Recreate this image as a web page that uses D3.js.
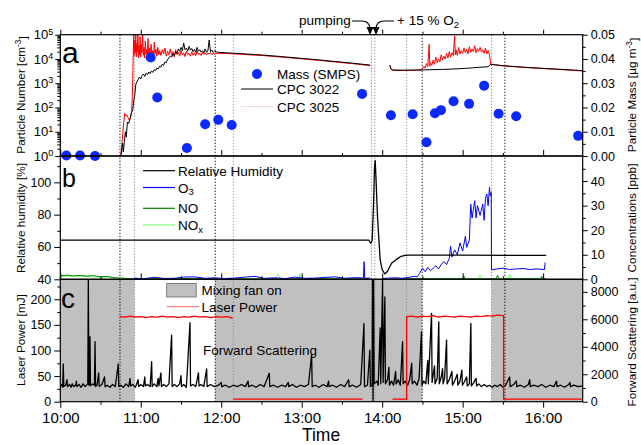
<!DOCTYPE html>
<html><head><meta charset="utf-8">
<script src="https://cdn.jsdelivr.net/npm/d3@7"></script>
<style>body{margin:0;background:#fff}svg{display:block;font-family:"Liberation Sans",Arial,sans-serif}</style>
</head><body><svg id="chart" width="641" height="445"></svg>
<script>
// ---------- DATA (time in minutes after 10:00) ----------
const hourLabels = ["10:00","11:00","12:00","13:00","14:00","15:00","16:00"];
const hourTicks = [0,60,120,180,240,300,360];
const halfTicks = [30,90,150,210,270,330];
const timeMax = 389.5;

const cpc3022 = [[44.5,1],[45.5,1.2],[46.5,3.4],[47,1.5],[47.8,4],[48.5,10],[49.2,6],[50,25],[51,22],[52,35],[53,60],[54,80],[54.8,200],[55.5,320],[56.3,900],[57,1100],[58,1400],[59,1800],[60,1500],[61,2100],[62,2400],[63,1900],[64,2600],[65,2300],[66,2900],[67,2500],[68,3200],[69,2800],[70,3600],[71,3300],[72,4200],[73,3900],[74,5000],[75,4600],[76,6000],[77,5500],[78,7500],[79,7000],[80,9500],[81,11000],[82,13000],[83,12000],[84,16000],[85,14000],[86,20000],[87,17000],[88,26000],[89,21000],[90,30000],[91,22000],[92,45000],[93,24000],[94,28000],[95,21000],[96,33000],[97,23000],[98,27000],[99,20000],[100,25000],[101,19000],[102,30000],[103,21000],[104,24000],[105,19000],[106,22000],[107,18000],[108,26000],[109,19000],[110,21000],[111,60000],[112,20000],[113,23000],[114,18500],[115,21000],[117,19000],[119,18600],[125,17800],[135,16500],[151,14500],[165,12500],[180,10600],[193.5,9100],[205,7800],[218,6700],[231,5600],
[238,null],
[245.7,5600],[246.5,3900],[248,3500],[255,3450],[265,3500],[275,3600],[285,3700],[295,3900],[305,4200],[312,4500],[319,4800],[321,6000],[330,5300],[345,4600],[360,4100],[375,3700],[389.5,3300]];

const cpc3025 = [[45,1],[45.8,2.5],[46.5,8],[47.2,20],[48,57],[48.8,45],[49.6,50],[50.5,38],[51.5,30],[52.3,36],[53.2,67],[53.8,400],[54.3,9000],[54.7,100000],[55.1,14000],[55.5,60000],[55.9,18000],[56.3,100000],[56.7,12000],[57.1,45000],[57.5,20000],[57.9,100000],[58.3,11000],[58.7,35000],[59.1,15000],[59.5,80000],[59.9,12000],[60.4,40000],[60.9,18000],[61.4,100000],[61.9,14000],[62.4,30000],[62.9,11000],[63.4,55000],[63.9,16000],[64.4,25000],[64.9,10000],[65.4,70000],[65.9,14000],[66.5,28000],[67.1,12000],[67.7,40000],[68.3,15000],[68.9,22000],[69.5,11000],[70.1,50000],[70.7,16000],[71.3,25000],[72,13000],[72.7,30000],[73.4,15000],[74.1,22000],[75,14000],[76,24000],[77,16000],[78,28000],[79,13000],[80,21000],[81,15000],[82,26000],[83,14000],[84,20000],[85,12000],[86,24000],[87,15000],[88,19000],[89,13000],[90,22000],[91,14500],[92,18000],[93,12500],[94,21000],[95,15000],[96,17000],[97,13000],[98,20000],[99,14000],[100,18000],[101,13500],[102,22000],[103,15000],[104,17000],[105,14000],[106,19000],[107,15500],[108,18000],[109,14500],[110,17500],[111,16000],[112,18500],[113,15000],[114,17000],[115,16000],[117,16800],[119,17000],[125,16600],[135,15500],[151,13800],[165,11900],[180,10100],[193.5,8700],[205,7500],[218,6400],[231,5300],
[238,null],
[245.7,5400],[246.5,3800],[248,3400],[255,3350],[262,3400],[269,3500],[270,3900],[271,5000],[272,4200],[273,6500],[274,4800],[275,40000],[275.5,5000],[276,7000],[277,5500],[278,9000],[279,6000],[280,12000],[281,7000],[282,10000],[283,7500],[284,15000],[285,9000],[286,13000],[287,10000],[288,17000],[289,11000],[290,20000],[291,12000],[292,18000],[293,14000],[294,90000],[294.5,15000],[295,24000],[296,14000],[297,30000],[298,16000],[299,22000],[300,17000],[301,28000],[302,18000],[303,25000],[304,16000],[305,32000],[306,19000],[307,26000],[308,20000],[309,35000],[310,18000],[311,27000],[312,21000],[313,30000],[314,19000],[315,24000],[316,17000],[317,28000],[318,16000],[319,22000],[320,14500],[321,6000],[330,5200],[345,4500],[360,4000],[375,3600],[389.5,3200]];

const massSMPS = [[4.5,0.0002],[14.7,0.0002],[25.9,0],[67.4,0.0406],[72.3,0.0241],[94.4,0.0033],[108,0.0131],[117.8,0.0149],[127.8,0.0128],[225,0.0256],[246.5,0.0168],[262.7,0.0172],[273,0.0057],[279.3,0.0176],[283.8,0.0189],[293.2,0.0226],[304.8,0.0215],[316,0.029],[326.8,0.0174],[339.9,0.0164],[386.1,0.0083]];

const relHum = [[0,64.3],[60,64.3],[120,64.3],[180,64.3],[230,64.3],[231.5,62.3],[232.5,64],[233.5,85],[234.3,110],[234.8,113.5],[235.5,100],[236.5,78.7],[238.5,52],[240,46],[242,43.3],[244,45],[247,49.9],[251,52.5],[253.5,54],[257,54.8],[260,55],[300,55],[340,54.8],[362.3,54.8]];

const ozone = [[55,0.5],[62,0.2],[70,0.8],[78,0.3],[85,0.4],[92,0.9],[100,1.0],[108,0.4],[115,0.6],[122,0.3],[130,0.5],[138,0.9],[145,1.2],[152,0.4],[160,0.6],[168,0.3],[175,0.9],[182,0.4],[190,0.5],[198,0.8],[205,1.0],[212,0.4],[220,0.7],[226,0.5],[226.5,7.2],[227,0.4],[231,0.5],
[237,null],
[240,0.3],[245,0.5],[250,0.6],[255,0.4],[260,0.8],[264,1.2],[266,1.0],[268,2.5],[270,4.5],[272,3.1],[274,4.8],[276,3.5],[278,4.5],[280,5.5],[282,4.2],[284,6.0],[286,7.2],[288,6.0],[290,8.5],[291,13.4],[292,9.0],[294,12.0],[296,10.0],[298,14.8],[300,11.5],[302,17.5],[303,13.0],[305,16.0],[306,30.6],[307,25],[308,28.5],[309,32],[310,25],[311,30],[313,26],[315,30.6],[316,24],[317,33],[318,34.7],[319,30],[320,37.4],[320.5,34],[321.3,35.4],[321.5,3.8],[325,4.2],[330,4.5],[335,4.0],[340,4.2],[345,4.4],[350,4.0],[355,4.2],[361,4.0],[361.5,6.8]];

const nitricOxide = [[0,1.5],[5,1.7],[10,1.4],[15,1.6],[20,1.3],[25,1.5],[30,1.0],[35,1.2],[40,0.6],[45,0.5],[50,0.3],[55,0.2],[80,0.2],[110,0.3],[140,0.1],[170,0.2],[200,0.2],[230,0.1],
[237,null],
[245,0.1],[270,0.2],[300,0.2],[301,1.2],[302,0.1],[325,0.2],[326,1.6],[327,0.2],[345,0.2],[358,0.1],[359,1.2],[360,0.2],[362,0.2]];

const nitrogenOx = [[0,1.0],[6,1.3],[12,1.0],[18,1.2],[24,0.9],[30,0.8],[36,0.9],[42,0.5],[50,0.3],[80,0.4],[120,0.3],[161,0.3],[162.5,2.2],[164,0.3],[178,0.3],[178.6,2.3],[180,0.3],[205,0.4],[230,0.3],
[237,null],
[250,0.3],[290,0.4],[312,0.3],[312.8,1.8],[314,0.3],[334,0.3],[335,2.2],[336,0.3],[350,0.4],[362,0.3]];

const laserPower = [[44.5,166],[48,165],[52,167],[56,165],[60,166],[64,164],[68,166],[72,165],[76,167],[80,165],[84,166],[88,164],[92,166],[96,165],[100,167],[104,165],[108,166],[112,164],[116,166],[120,165],[124,166],[128.5,163],
[128.8,null],
[129,5],[160,5],[190,5],[225.4,5],
[236,null],
[247.7,5],[258.2,5],[258.2,166],[262,167],[266,165],[270,167],[274,166],[278,168],[282,165],[286,167],[290,166],[294,165],[298,167],[302,166],[306,165],[310,167],[314,166],[318,168],[322,167],[326,169],[330.5,168],[330.5,5],[360,5],[389.5,5]];

const fwdScatter = [[0,1100],[1,1250],[1.8,1050],[2.2,2745],[2.6,1100],[4,1200],[5,1600],[5.4,1100],[7,1250],[8,1050],[9,1300],[10,1100],[11.5,1200],[12,1500],[12.4,1100],[14,1250],[15.5,1050],[17,1300],[18.5,1100],[20.5,1300],[20.9,8900],[21.3,1200],[21.7,1300],[22.1,4730],[22.5,1150],[24,1300],[25.5,1200],[25.9,4370],[26.3,1100],[27.5,1250],[28.6,2090],[29,1100],[31,1250],[33,1800],[33.4,1100],[35,1200],[37,1050],[39,1250],[41,1100],[43.2,2745],[43.6,1100],[45,1200],[47,1050],[49,1300],[51,1100],[52,1700],[52.4,1150],[54,1250],[56,1050],[58,1600],[58.4,1100],[60,1250],[62,1100],[63,1800],[63.4,1150],[65,1250],[67,1100],[68.1,2910],[68.5,1100],[70,1300],[72,1100],[73,1700],[73.5,1150],[75,2100],[75.4,1100],[77,1250],[79,1100],[81,1300],[83,4855],[83.4,1100],[85,1250],[87,1100],[89,1300],[90,1900],[90.4,1100],[92,1250],[94,1050],[96.7,5750],[97.1,1150],[99,1250],[101,1100],[103,2100],[103.4,1150],[105,1250],[107,1100],[109.1,2380],[109.5,1100],[112,1250],[115,1100],[118,1200],[120,1400],[120.4,1100],[123,1200],[126,1050],[129,1200],[132,1100],[135,1250],[138,1100],[140,1500],[140.4,1100],[143,1200],[146,1050],[149,1250],[152,1100],[155.8,2070],[156.2,1100],[159,1200],[162,1050],[165,1200],[168,1100],[170,1400],[170.4,1100],[173,1250],[176,1050],[179,1200],[182,1100],[185,1250],[187.4,3400],[187.8,1100],[190,1200],[193,1050],[196,1250],[199,1100],[200,1500],[200.4,1100],[203,1200],[206,1050],[209,1250],[212,1100],[215,1600],[215.4,1100],[218,1200],[221,1050],[224,1250],[226.4,5700],[226.8,1100],[229,1200],[230.8,3760],[231.2,1100],[232.5,1200],[232.8,8913],[233.2,0],[233.6,8913],[234,1300],[236,1500],[237,1200],[238.5,5370],[238.9,1300],[240.3,8913],[240.7,1400],[242,7640],[242.4,1300],[244,1600],[245,2500],[245.4,1200],[247,1500],[248.5,1200],[250,2200],[250.4,1300],[252,1600],[253.5,1200],[255.2,4370],[255.6,1300],[257,1500],[259,1200],[260.5,1600],[262,2800],[262.4,1300],[264,1500],[266,1200],[267.5,1700],[269.3,5100],[269.7,1200],[271,1500],[272.5,1300],[274,3000],[274.4,1300],[276.8,6430],[277.2,1400],[279,2600],[279.4,1300],[281,1700],[282.2,5820],[282.6,1300],[284,1800],[285,2400],[285.4,1300],[286.5,1700],[288,4490],[288.4,1300],[290,1600],[292,2200],[292.4,1200],[294,1500],[296,2000],[296.4,1200],[298,1500],[299.4,2300],[299.8,1200],[301,1400],[303,1800],[303.4,1150],[305,1300],[306.1,5700],[306.5,1150],[308,1350],[310,1700],[310.4,1150],[312,1300],[314,1100],[316,1250],[318,1100],[320,1200],[322,1050],[324,1200],[326,1100],[328,1250],[330,1050],[332,1200],[335,1800],[335.4,1100],[338,1250],[340,1500],[340.4,1100],[343,1200],[346,1050],[349,1250],[350,1600],[350.4,1100],[353,1200],[356,1100],[359,1250],[362,1050],[365,1200],[368,1100],[370,1500],[370.4,1100],[373,1200],[376,1050],[379,1250],[380,1400],[380.4,1100],[383,1200],[386,1100],[389.5,1150]];

const fanOn = [[0,55.3],[115.5,269.8],[321.5,timeMax]];
const eventsBlack = [44.5,115.5,269.8,331.5];
const eventsGray = [55.3,129,232,234.5,258.2,321.5];

const numTicks = [1,10,100,1000,10000,100000];
const massTicks = [0,0.01,0.02,0.03,0.04,0.05];
const rhTicks = [40,60,80,100];
const concTicks = [0,10,20,30,40];
const laserTicks = [0,50,100,150,200];
const scatTicks = [0,2000,4000,6000,8000];

// ---------- LAYOUT ----------
const svg = d3.select("#chart");
const X0 = 60.3, X1 = 582.7;
const A = {top:34.7, bot:156}, B = {top:156, bot:279.3}, C = {top:279.3, bot:401.7};
const x = d3.scaleLinear().domain([0,timeMax]).range([X0,X1]);
const yNum = d3.scaleLog().domain([1,1e5]).range([A.bot,A.top]);
const yMass = d3.scaleLinear().domain([0,0.05]).range([A.bot,A.top]);
const yRH = d3.scaleLinear().domain([40,116.3]).range([B.bot,B.top]);
const yConc = d3.scaleLinear().domain([0,50.2]).range([B.bot,B.top]);
const yLas = d3.scaleLinear().domain([0,239]).range([C.bot,C.top]);
const ySc = d3.scaleLinear().domain([0,8913]).range([C.bot,C.top]);

const defs = svg.append("defs");
[["clipA",A],["clipB",B],["clipC",C]].forEach(([id,p])=>{
  defs.append("clipPath").attr("id",id).append("rect").attr("x",X0).attr("y",p.top).attr("width",X1-X0).attr("height",p.bot-p.top);
});

// fan shading panel c
svg.append("g").selectAll("rect").data(fanOn).join("rect")
  .attr("x",d=>x(d[0])).attr("width",d=>x(d[1])-x(d[0]))
  .attr("y",C.top).attr("height",C.bot-C.top).attr("fill","#c0c0c0");

// event lines
const ev = svg.append("g");
ev.selectAll(".eg").data(eventsGray).join("line").attr("x1",d=>x(d)).attr("x2",d=>x(d))
  .attr("y1",A.top).attr("y2",C.bot).attr("stroke","#8a8a8a").attr("stroke-width",1).attr("stroke-dasharray","1.2,1.8");
ev.selectAll(".eb").data(eventsBlack).join("line").attr("x1",d=>x(d)).attr("x2",d=>x(d))
  .attr("y1",A.top).attr("y2",C.bot).attr("stroke","#000").attr("stroke-width",1).attr("stroke-dasharray","1.2,1.8");

const def = d=>d[1]!==null;
function drawLine(data, xs, ys, color, w, clip){
  svg.append("path").datum(data).attr("clip-path",`url(#${clip})`)
    .attr("fill","none").attr("stroke",color).attr("stroke-width",w).attr("stroke-linejoin","round")
    .attr("d", d3.line().defined(def).x(d=>xs(d[0])).y(d=>ys(d[1])));
}
// panel a
drawLine(cpc3025, x, d=>yNum(Math.max(d,1)), "#ff0000", 1, "clipA");
drawLine(cpc3022, x, d=>yNum(Math.max(d,1)), "#000", 1, "clipA");
svg.append("g").selectAll("circle").data(massSMPS).join("circle")
  .attr("cx",d=>x(d[0])).attr("cy",d=>yMass(d[1])).attr("r",5).attr("fill","#0a28ff");
// panel b
drawLine(nitrogenOx, x, yConc, "#7dff7d", 1, "clipB");
drawLine(nitricOxide, x, yConc, "#008000", 1, "clipB");
drawLine(ozone, x, yConc, "#0000ff", 1, "clipB");
drawLine(relHum, x, yRH, "#000", 1.3, "clipB");
// panel c
drawLine(fwdScatter, x, ySc, "#000", 1.3, "clipC");
drawLine(laserPower, x, yLas, "#ff0000", 1.3, "clipC");

// frames
[A,B,C].forEach(p=>svg.append("rect").attr("x",X0).attr("y",p.top).attr("width",X1-X0).attr("height",p.bot-p.top)
  .attr("fill","none").attr("stroke","#000").attr("stroke-width",1.2));

// ---------- AXES ----------
const fsY = "12.5px";
function styleAxis(g){ g.select(".domain").remove(); g.selectAll("line").attr("stroke","#000"); g.selectAll("text").attr("font-family","Liberation Sans, Arial").attr("fill","#000"); }
function minorVals(lo,hi,step){ const r=[]; for(let v=lo; v<=hi+1e-9; v+=step) r.push(+v.toFixed(6)); return r; }

// x axes
svg.append("g").attr("transform",`translate(0,${C.bot})`)
  .call(d3.axisBottom(x).tickValues(hourTicks).tickSize(6).tickPadding(5).tickFormat((d,i)=>hourLabels[i]))
  .call(styleAxis).selectAll("text").attr("font-size","15px");
svg.append("g").attr("transform",`translate(0,${C.bot})`).call(d3.axisBottom(x).tickValues(halfTicks).tickSize(3).tickFormat("")).call(styleAxis);
svg.append("g").attr("transform",`translate(0,${A.top})`).call(d3.axisTop(x).tickValues(hourTicks).tickSize(5).tickFormat("")).call(styleAxis);
svg.append("g").attr("transform",`translate(0,${A.top})`).call(d3.axisTop(x).tickValues(halfTicks).tickSize(3).tickFormat("")).call(styleAxis);
[A.bot,B.bot].forEach(yy=>{
  svg.append("g").attr("transform",`translate(0,${yy})`).call(d3.axisTop(x).tickValues(hourTicks).tickSize(6).tickFormat("")).call(styleAxis);
  svg.append("g").attr("transform",`translate(0,${yy})`).call(d3.axisTop(x).tickValues(halfTicks).tickSize(3).tickFormat("")).call(styleAxis);
});

// panel a left (log)
const ga = svg.append("g").attr("transform",`translate(${X0},0)`)
  .call(d3.axisLeft(yNum).tickValues(numTicks).tickSize(5).tickPadding(2)).call(styleAxis);
ga.selectAll(".tick text").attr("font-size","13px").text(null).each(function(d){
  const t=d3.select(this);
  t.append("tspan").text("10");
  t.append("tspan").attr("dy","-0.5em").attr("font-size","9px").text(Math.round(Math.log10(d)));
});
const logMinor=[]; numTicks.slice(0,-1).forEach(dd=>{for(let k=2;k<10;k++) logMinor.push(dd*k);});
svg.append("g").attr("transform",`translate(${X0},0)`).call(d3.axisLeft(yNum).tickValues(logMinor).tickSize(3).tickFormat("")).call(styleAxis);
// panel a right
svg.append("g").attr("transform",`translate(${X1},0)`)
  .call(d3.axisRight(yMass).tickValues(massTicks).tickSize(5).tickPadding(3).tickFormat(d3.format(".2f"))).call(styleAxis)
  .selectAll("text").attr("font-size",fsY);
svg.append("g").attr("transform",`translate(${X1},0)`).call(d3.axisRight(yMass).tickValues(minorVals(0.005,0.045,0.01)).tickSize(3).tickFormat("")).call(styleAxis);
// panel b
const fmtInt = d3.format("d");
svg.append("g").attr("transform",`translate(${X0},0)`)
  .call(d3.axisLeft(yRH).tickValues(rhTicks).tickSize(6).tickPadding(3).tickFormat(fmtInt)).call(styleAxis).selectAll("text").attr("font-size",fsY);
svg.append("g").attr("transform",`translate(${X0},0)`).call(d3.axisLeft(yRH).tickValues([50,70,90,110]).tickSize(3).tickFormat("")).call(styleAxis);
svg.append("g").attr("transform",`translate(${X1},0)`)
  .call(d3.axisRight(yConc).tickValues(concTicks).tickSize(5).tickPadding(3).tickFormat(fmtInt)).call(styleAxis).selectAll("text").attr("font-size",fsY);
svg.append("g").attr("transform",`translate(${X1},0)`).call(d3.axisRight(yConc).tickValues([5,15,25,35,45]).tickSize(3).tickFormat("")).call(styleAxis);
// panel c
svg.append("g").attr("transform",`translate(${X0},0)`)
  .call(d3.axisLeft(yLas).tickValues(laserTicks).tickSize(6).tickPadding(3).tickFormat(fmtInt)).call(styleAxis).selectAll("text").attr("font-size",fsY);
svg.append("g").attr("transform",`translate(${X0},0)`).call(d3.axisLeft(yLas).tickValues([25,75,125,175,225]).tickSize(3).tickFormat("")).call(styleAxis);
svg.append("g").attr("transform",`translate(${X1},0)`)
  .call(d3.axisRight(ySc).tickValues(scatTicks).tickSize(5).tickPadding(3).tickFormat(fmtInt)).call(styleAxis).selectAll("text").attr("font-size",fsY);
svg.append("g").attr("transform",`translate(${X1},0)`).call(d3.axisRight(ySc).tickValues([1000,3000,5000,7000]).tickSize(3).tickFormat("")).call(styleAxis);

// ---------- TEXT ----------
function rich(sel, parts){
  parts.forEach(([s,k])=>{
    const t=sel.append("tspan").text(s);
    if(k==="sup") t.attr("dy","-0.45em").attr("font-size","0.7em");
    if(k==="sub") t.attr("dy","0.3em").attr("font-size","0.7em");
    if(k==="back") t.attr("dy","0.45em");
  });
}
function vtitle(xp, yp, parts){
  const t=svg.append("text").attr("transform",`translate(${xp},${yp}) rotate(-90)`).attr("text-anchor","middle").attr("font-size","11.8px").attr("fill","#000");
  rich(t,parts);
}
vtitle(25,95,[["Particle Number [cm",null],["-3","sup"],["]","back"]]);
vtitle(25,218,[["Relative humidity [%]",null]]);
vtitle(25,340,[["Laser Power [mJ]",null]]);
vtitle(636,95,[["Particle Mass [µg m",null],["-3","sup"],["]","back"]]);
vtitle(636,218,[["Concentrations [ppb]",null]]);
vtitle(636,342,[["Forward Scattering [a.u.]",null]]);

svg.append("text").attr("x",321).attr("y",441).attr("text-anchor","middle").attr("font-size","17.5px").text("Time");

svg.append("text").attr("x",62).attr("y",63).attr("font-size","30px").text("a");
svg.append("text").attr("x",62).attr("y",186.5).attr("font-size","25px").text("b");
svg.append("text").attr("x",61).attr("y",308).attr("font-size","28px").text("c");

// legend a
const lf="13.5px";
svg.append("circle").attr("cx",257).attr("cy",74).attr("r",5).attr("fill","#0a28ff");
svg.append("text").attr("x",277).attr("y",79).attr("font-size",lf).text("Mass (SMPS)");
svg.append("line").attr("x1",241).attr("x2",273).attr("y1",89).attr("y2",89).attr("stroke","#000");
svg.append("text").attr("x",277).attr("y",94).attr("font-size",lf).text("CPC 3022");
svg.append("line").attr("x1",241).attr("x2",273).attr("y1",106.7).attr("y2",106.7).attr("stroke","#f6d4d4");
svg.append("text").attr("x",277).attr("y",111.5).attr("font-size",lf).text("CPC 3025");

// legend b
const lb=[["#000",170.7,[["Relative Humidity",null]]],["#0000ff",187.5,[["O",null],["3","sub"]]],["#008000",208.3,[["NO",null]]],["#7dff7d",225,[["NO",null],["x","sub"]]]];
lb.forEach(([c,yy,parts])=>{
  svg.append("line").attr("x1",143).attr("x2",175).attr("y1",yy).attr("y2",yy).attr("stroke",c).attr("stroke-width",1.2);
  const t=svg.append("text").attr("x",178).attr("y",yy+5).attr("font-size",lf);
  rich(t,parts);
});

// legend c
svg.append("rect").attr("x",166.7).attr("y",283.5).attr("width",29.5).attr("height",13.5).attr("fill","#c0c0c0").attr("stroke","#666").attr("stroke-width",0.8);
svg.append("text").attr("x",201.5).attr("y",295).attr("font-size",lf).text("Mixing fan on");
svg.append("line").attr("x1",166.7).attr("x2",199).attr("y1",306.7).attr("y2",306.7).attr("stroke","#ff6a6a");
svg.append("text").attr("x",201.5).attr("y",311.5).attr("font-size",lf).text("Laser Power");
svg.append("text").attr("x",203).attr("y",354.5).attr("font-size",lf).text("Forward Scattering");

// top annotations
svg.append("text").attr("x",299).attr("y",25).attr("font-size","13.5px").text("pumping");
const t2=svg.append("text").attr("x",397).attr("y",25).attr("font-size","13.5px");
rich(t2,[["+ 15 % O",null],["2","sub"]]);
svg.append("path").attr("d","M352,21 L362,21 Q369,21 370,28").attr("fill","none").attr("stroke","#000").attr("stroke-width",1.1);
svg.append("path").attr("d","M394,21 L384,21 Q377,21 376,28").attr("fill","none").attr("stroke","#000").attr("stroke-width",1.1);
svg.append("path").attr("d","M366.5,27 L373.5,27 L370,35 Z").attr("fill","#000");
svg.append("path").attr("d","M372.5,27 L379.5,27 L376,35 Z").attr("fill","#000");
</script></body></html>
